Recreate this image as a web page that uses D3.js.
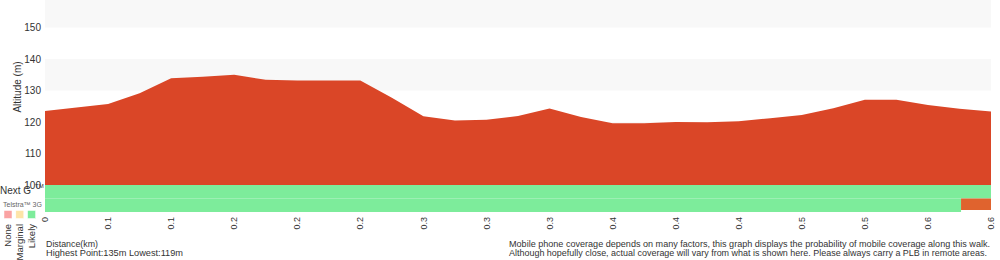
<!DOCTYPE html>
<html lang="en">
<head>
<meta charset="UTF-8">
<title>walk profile - altitude and coverage</title>
<script src="https://d3js.org/d3.v7.min.js"></script>
<style>
body {
margin: 0;
background: #fff;
font-family: 'Liberation Sans', Arial, sans-serif;
}
svg text {
fill: #333;
}
</style>
</head>
<body>
<svg width="1000" height="260"></svg>
<script>
// distance along the walk (km) and altitude (m)
var distances = [0, 0.02, 0.04, 0.06, 0.08, 0.10, 0.12, 0.14, 0.16, 0.18, 0.20,
                 0.22, 0.24, 0.26, 0.28, 0.30, 0.32, 0.34, 0.36, 0.38, 0.40,
                 0.42, 0.44, 0.46, 0.48, 0.50, 0.52, 0.54, 0.56, 0.58, 0.60];
var altitudes = [123.5, 124.6, 125.7, 129.1, 133.9, 134.4, 135.0, 133.4, 133.2, 133.2, 133.2,
                 127.7, 121.8, 120.5, 120.7, 121.9, 124.3, 121.6, 119.6, 119.6, 120.0,
                 119.9, 120.2, 121.2, 122.2, 124.4, 127.1, 127.1, 125.4, 124.2, 123.3];

var xTickValues = [0, 0.04, 0.08, 0.12, 0.16, 0.20, 0.24, 0.28, 0.32, 0.36, 0.40, 0.44, 0.48, 0.52, 0.56, 0.60];
var xTickLabels = ["0", "0.1", "0.1", "0.2", "0.2", "0.2", "0.3", "0.3", "0.3", "0.4", "0.4", "0.4", "0.5", "0.5", "0.6", "0.6"];
var yTickValues = [100, 110, 120, 130, 140, 150];
var greyBands = [110, 130, 150];

// coverage segments per network (km from, km to, level)
var nextG = [{from: 0, to: 0.6, level: "likely"}];
var telstra3G = [{from: 0, to: 0.581, level: "likely"}, {from: 0.581, to: 0.6, level: "warn"}];

var legendNames = ["None", "Marginal", "Likely"];

var levelColor = {
    none: "#faa3a3",
    marginal: "#fde4a8",
    likely: "#7dec9b",
    warn: "#e0632e"
};

var svg = d3.select("svg");

var x = d3.scaleLinear().domain([0, 0.6]).range([45, 991]);
var y = d3.scaleLinear().domain([100, 150]).range([185, 27.5]);

// alternating background bands
svg.append("g")
    .selectAll("rect")
    .data(greyBands)
    .enter()
    .append("rect")
    .attr("x", x(0))
    .attr("width", x(0.6) - x(0))
    .attr("y", function(d) { return Math.max(0, y(d + 10)); })
    .attr("height", function(d) { return y(d) - Math.max(0, y(d + 10)); })
    .style("fill", "#f8f8f8");

// altitude area
var area = d3.area()
    .x(function(d, i) { return x(distances[i]); })
    .y0(y(100))
    .y1(function(d) { return y(d); });

svg.append("path")
    .datum(altitudes)
    .attr("d", area)
    .style("fill", "#da4627");

// coverage rows
var rowTop = y(100), rowH = 13.5;
function drawRow(segs, top, h) {
    svg.append("g")
        .selectAll("rect")
        .data(segs)
        .enter()
        .append("rect")
        .attr("x", function(d) { return x(d.from); })
        .attr("width", function(d) { return x(d.to) - x(d.from); })
        .attr("y", top)
        .attr("height", function(d) { return d.level == "warn" ? h - 2 : h; })
        .style("fill", function(d) { return levelColor[d.level]; });
}
drawRow(nextG, rowTop, rowH);
drawRow(telstra3G, rowTop + rowH, rowH);

// y axis labels
svg.append("g")
    .selectAll("text")
    .data(yTickValues)
    .enter()
    .append("text")
    .attr("x", 41)
    .attr("y", function(d) { return y(d); })
    .attr("dy", "0.35em")
    .attr("text-anchor", "end")
    .style("font-size", "10px")
    .text(function(d) { return d; });

svg.append("text")
    .attr("transform", "translate(21,87)rotate(-90)")
    .attr("text-anchor", "middle")
    .style("font-size", "10px")
    .text("Altitude (m)");

// x axis labels, rotated
svg.append("g")
    .selectAll("text")
    .data(xTickValues)
    .enter()
    .append("text")
    .attr("transform", function(d) { return "translate(" + x(d) + ",217)rotate(-90)"; })
    .attr("dy", "0.35em")
    .attr("text-anchor", "end")
    .style("font-size", "9px")
    .text(function(d, i) { return xTickLabels[i]; });

// legend
svg.append("text").attr("x", 0).attr("y", 194).style("font-size", "10px").text("Next G");
svg.append("text").attr("x", 35).attr("y", 188).style("font-size", "6px").text("TM");
svg.append("text").attr("x", 3).attr("y", 207).style("font-size", "7px").style("fill", "#666").text("Telstra\u2122 3G");

var legendKeys = ["none", "marginal", "likely"];
var legend = svg.append("g")
    .selectAll("g")
    .data(legendKeys)
    .enter()
    .append("g")
    .attr("transform", function(d, i) { return "translate(" + (4 + i * 11.8) + ",0)"; });

legend.append("rect")
    .attr("y", 210.5)
    .attr("width", 8)
    .attr("height", 8)
    .style("fill", function(d) { return levelColor[d]; })
    .style("stroke", "#fff")
    .style("stroke-width", 0.5);

legend.append("text")
    .attr("transform", "translate(4,224)rotate(-90)")
    .attr("dy", "0.35em")
    .attr("text-anchor", "end")
    .style("font-size", "9.5px")
    .text(function(d, i) { return legendNames[i]; });

// footer text
svg.append("text").attr("x", 46).attr("y", 247).style("font-size", "9px")
    .attr("textLength", 52).attr("lengthAdjust", "spacingAndGlyphs").text("Distance(km)");
svg.append("text").attr("x", 46).attr("y", 255.5).style("font-size", "9px")
    .attr("textLength", 137).attr("lengthAdjust", "spacingAndGlyphs").text("Highest Point:135m Lowest:119m");

svg.append("text").attr("x", 509).attr("y", 247).style("font-size", "9px")
    .attr("textLength", 481).attr("lengthAdjust", "spacingAndGlyphs")
    .text("Mobile phone coverage depends on many factors, this graph displays the probability of mobile coverage along this walk.");
svg.append("text").attr("x", 509).attr("y", 255.5).style("font-size", "9px")
    .attr("textLength", 478).attr("lengthAdjust", "spacingAndGlyphs")
    .text("Although hopefully close, actual coverage will vary from what is shown here. Please always carry a PLB in remote areas.");
</script>
</body>
</html>
